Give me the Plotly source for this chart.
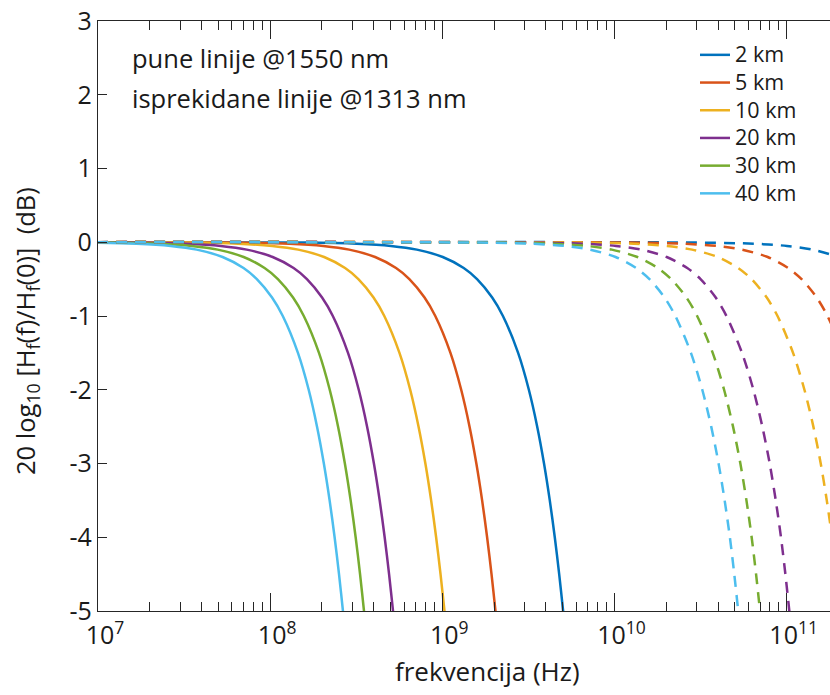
import plotly.graph_objects as go

# ---------------- data ----------------
DISTANCES = ["2 km", "5 km", "10 km", "20 km", "30 km", "40 km"]
COLORS = ["#0072BD", "#D95319", "#EDB120", "#7E2F8E", "#77AC30", "#4DBEEE"]

# response levels (dB) shared by all curves
DB_LEVELS = [0.0, -0.005, -0.02, -0.05, -0.1, -0.2, -0.35, -0.5, -0.75, -1.0,
             -1.5, -2.0, -2.5, -3.0, -3.5, -4.0, -4.5, -5.0, -5.5]

# frequencies (Hz) at which each solid (1550 nm) curve reaches the levels above
F_1550_2KM = [1e6, 1.59e8, 3.18e8, 5.03e8, 7.11e8, 1.006e9, 1.331e9, 1.591e9, 1.948e9, 2.249e9,
              2.755e9, 3.181e9, 3.557e9, 3.896e9, 4.208e9, 4.499e9, 4.772e9, 5.03e9, 5.275e9]
F_1550_5KM = [1e6, 6.43e7, 1.286e8, 2.035e8, 2.878e8, 4.07e8, 5.385e8, 6.435e8, 7.882e8, 9.101e8,
              1.1146e9, 1.2871e9, 1.439e9, 1.5763e9, 1.7027e9, 1.8201e9, 1.9306e9, 2.035e9, 2.1343e9]
F_1550_10KM = [1e6, 3.25e7, 6.50e7, 1.029e8, 1.455e8, 2.058e8, 2.723e8, 3.254e8, 3.985e8, 4.602e8,
               5.636e8, 6.508e8, 7.276e8, 7.971e8, 8.610e8, 9.203e8, 9.762e8, 1.029e9, 1.0792e9]
F_1550_20KM = [1e6, 1.634e7, 3.268e7, 5.17e7, 7.311e7, 1.034e8, 1.368e8, 1.635e8, 2.002e8, 2.312e8,
               2.832e8, 3.270e8, 3.656e8, 4.005e8, 4.326e8, 4.624e8, 4.905e8, 5.17e8, 5.422e8]
F_1550_30KM = [1e6, 1.108e7, 2.216e7, 3.507e7, 4.959e7, 7.014e7, 9.280e7, 1.109e8, 1.358e8, 1.568e8,
               1.921e8, 2.218e8, 2.480e8, 2.716e8, 2.934e8, 3.137e8, 3.327e8, 3.507e8, 3.678e8]
F_1550_40KM = [1e6, 8.37e6, 1.673e7, 2.647e7, 3.743e7, 5.294e7, 7.004e7, 8.370e7, 1.0252e8, 1.1837e8,
               1.4498e8, 1.6742e8, 1.8717e8, 2.0504e8, 2.2147e8, 2.3675e8, 2.5112e8, 2.647e8, 2.7762e8]

# frequencies (Hz) at which each dashed (1313 nm) curve reaches the levels above
F_1313_2KM = [1e6, 3.22e10, 6.45e10, 1.0047e11, 1.406e11, 1.979e11, 2.606e11, 3.112e11, 3.812e11, 4.401e11,
              5.419e11, 6.310e11, 7.111e11, 7.846e11, 8.508e11, 9.123e11, 9.677e11, 1.02e12, 1.0698e12]
F_1313_5KM = [1e6, 1.265e10, 2.53e10, 3.94e10, 5.516e10, 7.76e10, 1.021e11, 1.2207e11, 1.4948e11, 1.7264e11,
              2.1253e11, 2.4743e11, 2.7884e11, 3.0763e11, 3.337e11, 3.578e11, 3.795e11, 4.0e11, 4.195e11]
F_1313_10KM = [1e6, 6.48e9, 1.296e10, 2.019e10, 2.827e10, 3.977e10, 5.234e10, 6.255e10, 7.662e10, 8.847e10,
               1.0891e11, 1.2681e11, 1.4293e11, 1.5768e11, 1.7101e11, 1.8335e11, 1.9448e11, 2.05e11, 2.150e11]
F_1313_20KM = [1e6, 3.274e9, 6.548e9, 1.0205e10, 1.4284e10, 2.0098e10, 2.645e10, 3.1613e10, 3.8716e10, 4.4708e10,
               5.5038e10, 6.4088e10, 7.2234e10, 7.9688e10, 8.642e10, 9.266e10, 9.829e10, 1.036e11, 1.0866e11]
F_1313_30KM = [1e6, 2.212e9, 4.424e9, 6.895e9, 9.651e9, 1.358e10, 1.7872e10, 2.1355e10, 2.6161e10, 3.0205e10,
               3.719e10, 4.3306e10, 4.8807e10, 5.384e10, 5.8394e10, 6.261e10, 6.641e10, 7.0e10, 7.342e10]
F_1313_40KM = [1e6, 1.653e9, 3.305e9, 5.152e9, 7.21e9, 1.0146e10, 1.3356e10, 1.5961e10, 1.9551e10, 2.2571e10,
               2.7791e10, 3.2352e10, 3.6462e10, 4.0226e10, 4.3629e10, 4.678e10, 4.962e10, 5.23e10, 5.485e10]

SOLID = [F_1550_2KM, F_1550_5KM, F_1550_10KM, F_1550_20KM, F_1550_30KM, F_1550_40KM]
DASHED = [F_1313_2KM, F_1313_5KM, F_1313_10KM, F_1313_20KM, F_1313_30KM, F_1313_40KM]

X_TICKS = [1e7, 1e8, 1e9, 1e10, 1e11]
X_TICK_TEXT = ["10<sup>7</sup>", "10<sup>8</sup>", "10<sup>9</sup>", "10<sup>10</sup>", "10<sup>11</sup>"]
Y_TICKS = [-5, -4, -3, -2, -1, 0, 1, 2, 3]
Y_TICK_TEXT = ["-5", "-4", "-3", "-2", "-1", "0", "1", "2", "3"]

# ---------------- layout geometry ----------------
W, H = 830, 695
ML, MR, MT, MB = 98, 0, 21, 84
PW, PH = W - ML - MR, H - MT - MB
X_MAX_LOG = 11.2517


def px(x):
    return (x - ML) / PW


def py(y):
    return (H - MB - y) / PH


MINOR_TICKS = [m * 10 ** e for e in range(7, 12) for m in range(2, 10) if m * 10 ** e < 10 ** X_MAX_LOG]

FONT = "Open Sans"
AXIS_COLOR = "#262626"
TEXT_COLOR = "#1a1a1a"

fig = go.Figure()
for name, col, f in zip(DISTANCES, COLORS, SOLID):
    fig.add_trace(go.Scatter(x=f, y=DB_LEVELS, mode="lines",
                             name='<span style="font-size:21.5px">' + name + "</span>",
                             line=dict(color=col, width=2.5, shape="spline", smoothing=0.8),
                             showlegend=True))
for name, col, f in zip(DISTANCES, COLORS, DASHED):
    fig.add_trace(go.Scatter(x=f, y=DB_LEVELS, mode="lines", name=name + " (1313 nm)",
                             line=dict(color=col, width=2.5, dash="11px,8px",
                                       shape="spline", smoothing=0.8),
                             showlegend=False))

fig.update_layout(
    width=W, height=H,
    margin=dict(l=ML, r=MR, t=MT, b=MB, pad=0),
    paper_bgcolor="white", plot_bgcolor="white",
    font=dict(family=FONT, size=24, color=TEXT_COLOR),
    showlegend=True,
    legend=dict(x=px(695), y=py(36), xanchor="left", yanchor="top",
                bgcolor="rgba(0,0,0,0)", borderwidth=0,
                font=dict(family=FONT, size=19, color=TEXT_COLOR),
                tracegroupgap=0),
    xaxis=dict(type="log", range=[7, X_MAX_LOG], tickmode="array",
               tickvals=X_TICKS, ticktext=X_TICK_TEXT, ticklabelshift=7,
               ticklabelstandoff=2,
               ticks="inside", ticklen=18, tickwidth=1.2, tickcolor=AXIS_COLOR,
               showline=True, linecolor=AXIS_COLOR, linewidth=1.3,
               mirror="ticks", showgrid=False, zeroline=False,
               tickfont=dict(family=FONT, size=25, color=TEXT_COLOR),
               minor=dict(ticks="inside", ticklen=9, tickwidth=1.2, tickcolor=AXIS_COLOR,
                          tickmode="array", tickvals=MINOR_TICKS, showgrid=False)),
    yaxis=dict(range=[-5, 3], tickmode="array", tickvals=Y_TICKS, ticktext=Y_TICK_TEXT,
               ticks="inside", ticklen=9, tickwidth=1.2, tickcolor=AXIS_COLOR,
               showline=True, linecolor=AXIS_COLOR, linewidth=1.3,
               mirror=False, showgrid=False, zeroline=False,
               tickfont=dict(family=FONT, size=25, color=TEXT_COLOR)),
    annotations=[
        dict(text="pune linije @1550 nm", x=px(130), y=py(58), xref="paper", yref="paper",
             xanchor="left", yanchor="middle", showarrow=False,
             font=dict(family=FONT, size=25.5, color=TEXT_COLOR)),
        dict(text="isprekidane linije @1313 nm", x=px(130), y=py(98), xref="paper", yref="paper",
             xanchor="left", yanchor="middle", showarrow=False,
             font=dict(family=FONT, size=25.5, color=TEXT_COLOR)),
        dict(text="frekvencija (Hz)", x=px(487), y=py(671), xref="paper", yref="paper",
             xanchor="center", yanchor="middle", showarrow=False,
             font=dict(family=FONT, size=26, color=TEXT_COLOR)),
        dict(text="20 log<sub>10</sub> [H<sub>f</sub>(f)/H<sub>f</sub>(0)]\u00a0\u00a0(dB)",
             x=px(27), y=py(331), xref="paper", yref="paper", textangle=-90,
             xanchor="center", yanchor="middle", showarrow=False,
             font=dict(family=FONT, size=25.5, color=TEXT_COLOR)),
    ],
)

fig.write_html("out.html")
